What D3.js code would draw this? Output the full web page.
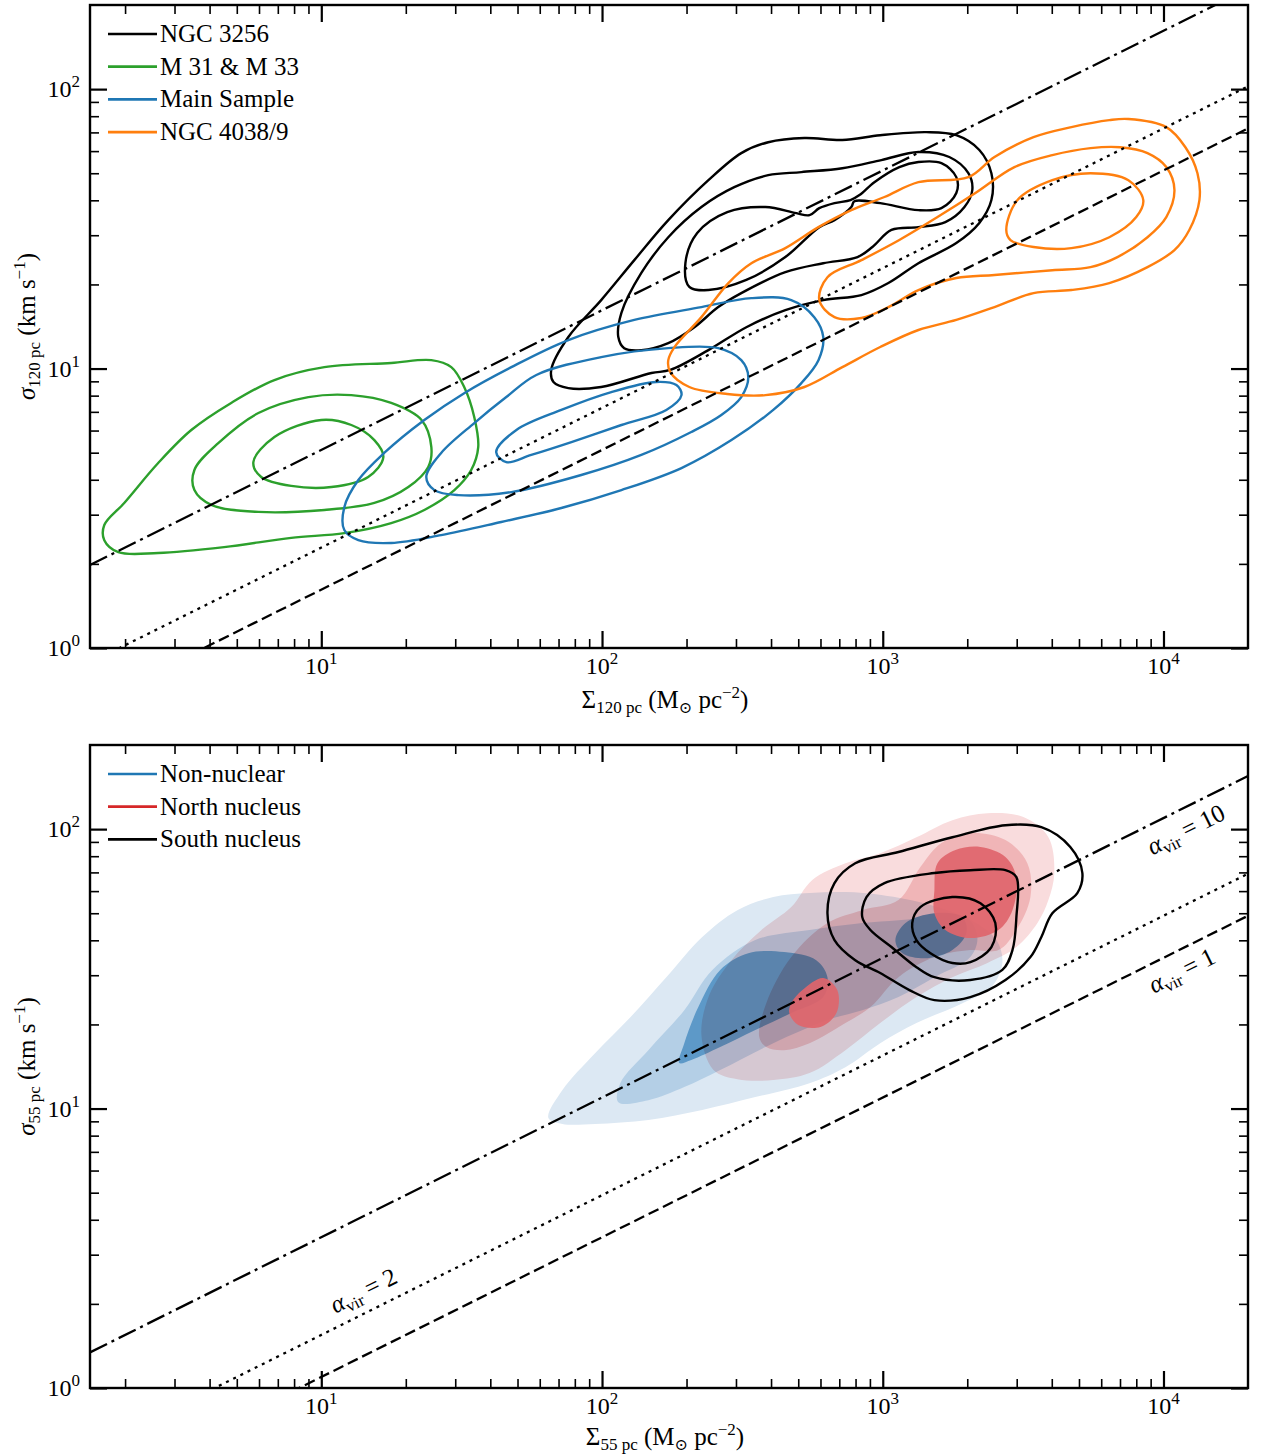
<!DOCTYPE html>
<meta charset="utf-8">
<style>
body { margin: 0; background: #fff; }
svg { font-family: "Liberation Serif", "DejaVu Serif", serif; }
.frame { fill: none; stroke: #000; stroke-width: 2.4; }
.contour { fill: none; stroke-width: 2.4; stroke-linejoin: round; }
.vir { fill: none; stroke: #000; stroke-width: 2.3; }
</style>
<svg width="1263" height="1455"></svg>
<script src="https://d3js.org/d3.v7.min.js"></script>
<script>

// axes
var xDomain = [1.5, 2e4],
    yDomain = [1, 200];
var xMajor = [10, 100, 1000, 10000],
    yMajor = [1, 10, 100];

// virial parameter lines: sigma^2 = coef * alpha * Sigma * R
var alphaVir = [10, 2, 1];
var coef = 0.00218;
var resolution = [120, 55];

// contour levels, [log10 Sigma, log10 sigma], outer -> inner
var ngc3256 = [
  [[1.819,0.995],[1.880,1.113],[1.997,1.245],[2.115,1.388],[2.236,1.531],[2.379,1.674],[2.496,1.771],[2.592,1.810],[2.721,1.825],[2.856,1.818],[2.991,1.835],[3.155,1.846],[3.262,1.835],[3.344,1.782],[3.387,1.699],[3.387,1.603],[3.344,1.521],[3.262,1.449],[3.127,1.377],[3.020,1.306],[2.924,1.263],[2.788,1.245],[2.653,1.209],[2.514,1.148],[2.379,1.066],[2.243,0.995],[2.176,0.984],[1.997,0.934],[1.880,0.930],[1.827,0.952]],
  [[2.069,1.199],[2.140,1.342],[2.236,1.470],[2.354,1.578],[2.471,1.649],[2.592,1.692],[2.710,1.703],[2.856,1.717],[2.995,1.746],[3.127,1.775],[3.237,1.757],[3.305,1.699],[3.319,1.639],[3.291,1.578],[3.223,1.524],[3.127,1.506],[3.031,1.496],[2.963,1.435],[2.910,1.399],[2.788,1.377],[2.653,1.345],[2.496,1.270],[2.414,1.220],[2.329,1.148],[2.236,1.091],[2.140,1.066],[2.079,1.073],[2.058,1.113]],
  [[2.446,1.560],[2.582,1.578],[2.692,1.556],[2.739,1.549],[2.774,1.574],[2.828,1.592],[2.885,1.603],[2.917,1.621],[2.970,1.667],[3.059,1.721],[3.127,1.739],[3.209,1.735],[3.262,1.685],[3.262,1.628],[3.209,1.574],[3.127,1.567],[2.991,1.592],[2.899,1.599],[2.888,1.578],[2.828,1.531],[2.774,1.506],[2.653,1.399],[2.514,1.317],[2.379,1.281],[2.311,1.292],[2.297,1.377],[2.339,1.485]]
];

var m31m33 = [
  [[0.227,0.440],[0.298,0.519],[0.419,0.662],[0.537,0.780],[0.679,0.877],[0.833,0.959],[1.011,1.005],[1.249,1.020],[1.392,1.030],[1.463,1.005],[1.509,0.934],[1.545,0.826],[1.559,0.719],[1.534,0.637],[1.474,0.565],[1.367,0.494],[1.249,0.447],[1.082,0.411],[0.893,0.394],[0.654,0.361],[0.419,0.340],[0.277,0.343],[0.227,0.386]],
  [[1.392,0.719],[1.357,0.816],[1.249,0.877],[1.107,0.905],[0.954,0.898],[0.776,0.841],[0.633,0.733],[0.548,0.637],[0.548,0.565],[0.608,0.512],[0.776,0.487],[1.011,0.494],[1.189,0.519],[1.310,0.576],[1.381,0.648]],
  [[1.000,0.816],[0.833,0.755],[0.758,0.665],[0.786,0.612],[0.893,0.580],[1.036,0.576],[1.167,0.612],[1.221,0.683],[1.189,0.744],[1.107,0.798]]
];

var mainSample = [
  [[1.082,0.504],[1.132,0.601],[1.224,0.698],[1.367,0.816],[1.509,0.912],[1.677,1.005],[1.880,1.102],[2.115,1.174],[2.354,1.220],[2.532,1.252],[2.674,1.245],[2.756,1.184],[2.788,1.113],[2.771,1.030],[2.710,0.948],[2.610,0.852],[2.461,0.744],[2.283,0.644],[2.069,0.565],[1.855,0.501],[1.641,0.451],[1.427,0.404],[1.249,0.376],[1.132,0.386],[1.082,0.422]],
  [[1.374,0.612],[1.427,0.698],[1.545,0.805],[1.659,0.898],[1.766,0.977],[1.997,1.041],[2.236,1.073],[2.414,1.073],[2.496,1.030],[2.521,0.970],[2.496,0.898],[2.425,0.834],[2.318,0.773],[2.140,0.691],[1.926,0.619],[1.677,0.558],[1.488,0.547],[1.403,0.565]],
  [[1.623,0.701],[1.695,0.780],[1.855,0.852],[2.033,0.916],[2.193,0.952],[2.265,0.941],[2.283,0.905],[2.229,0.852],[2.069,0.798],[1.891,0.737],[1.748,0.691],[1.659,0.665]]
];

var ngc4038 = [
  [[2.236,1.030],[2.258,1.077],[2.354,1.184],[2.450,1.306],[2.532,1.377],[2.653,1.431],[2.771,1.506],[2.888,1.567],[3.006,1.614],[3.127,1.667],[3.305,1.685],[3.398,1.757],[3.537,1.828],[3.672,1.864],[3.807,1.889],[3.875,1.893],[4.010,1.864],[4.078,1.792],[4.121,1.699],[4.128,1.603],[4.092,1.496],[4.039,1.424],[3.943,1.363],[3.807,1.306],[3.672,1.281],[3.537,1.270],[3.398,1.220],[3.262,1.174],[3.127,1.138],[2.991,1.077],[2.856,1.005],[2.721,0.934],[2.582,0.905],[2.446,0.909],[2.311,0.934],[2.243,0.987]],
  [[2.774,1.245],[2.803,1.327],[2.924,1.388],[3.059,1.460],[3.195,1.542],[3.330,1.628],[3.469,1.721],[3.604,1.764],[3.740,1.789],[3.846,1.792],[3.943,1.771],[4.010,1.721],[4.039,1.639],[4.010,1.542],[3.943,1.470],[3.836,1.399],[3.740,1.363],[3.604,1.352],[3.398,1.335],[3.262,1.324],[3.127,1.281],[3.020,1.220],[2.924,1.181],[2.828,1.184]],
  [[3.440,1.496],[3.480,1.603],[3.604,1.674],[3.740,1.699],[3.875,1.674],[3.928,1.603],[3.903,1.542],[3.807,1.470],[3.672,1.431],[3.537,1.435],[3.455,1.460]]
];

// lower panel: filled density levels (light -> dark) and south nucleus lines
var nonNuclear = [
  [[1.809,0.966],[1.859,1.066],[1.976,1.199],[2.101,1.327],[2.229,1.470],[2.357,1.614],[2.482,1.710],[2.610,1.757],[2.739,1.771],[2.867,1.775],[2.995,1.764],[3.173,1.728],[3.316,1.674],[3.405,1.603],[3.426,1.521],[3.387,1.435],[3.284,1.377],[3.120,1.306],[2.991,1.234],[2.867,1.148],[2.739,1.091],[2.546,1.041],[2.357,0.995],[2.165,0.959],[1.976,0.945],[1.859,0.945]],
  [[2.058,1.023],[2.065,1.091],[2.165,1.209],[2.293,1.352],[2.393,1.496],[2.546,1.603],[2.739,1.639],[2.927,1.664],[3.056,1.674],[3.184,1.685],[3.298,1.685],[3.337,1.614],[3.312,1.542],[3.184,1.470],[3.056,1.399],[2.927,1.352],[2.803,1.317],[2.610,1.234],[2.421,1.138],[2.293,1.077],[2.165,1.030]],
  [[2.275,1.163],[2.293,1.234],[2.343,1.363],[2.421,1.496],[2.521,1.556],[2.649,1.560],[2.763,1.531],[2.803,1.470],[2.788,1.399],[2.674,1.342],[2.546,1.281],[2.421,1.220],[2.318,1.174]],
  [[3.045,1.603],[3.081,1.664],[3.184,1.699],[3.284,1.685],[3.298,1.628],[3.248,1.567],[3.159,1.538],[3.070,1.556]]
];
var nonNuclearLevel = [0, 1, 2, 2];

var northNucleus = [
  [[2.397,1.138],[2.354,1.263],[2.382,1.406],[2.461,1.531],[2.568,1.639],[2.674,1.721],[2.749,1.818],[2.867,1.878],[2.991,1.914],[3.120,1.971],[3.248,2.032],[3.373,2.057],[3.501,2.043],[3.590,1.971],[3.611,1.843],[3.590,1.746],[3.551,1.664],[3.476,1.578],[3.373,1.521],[3.248,1.470],[3.120,1.399],[2.991,1.306],[2.867,1.209],[2.739,1.127],[2.610,1.102],[2.482,1.105]],
  [[2.560,1.256],[2.585,1.377],[2.674,1.542],[2.803,1.664],[2.927,1.710],[3.056,1.746],[3.134,1.864],[3.209,1.950],[3.312,1.986],[3.437,1.961],[3.515,1.878],[3.526,1.757],[3.476,1.639],[3.412,1.567],[3.312,1.567],[3.184,1.542],[3.056,1.470],[2.956,1.363],[2.867,1.306],[2.739,1.234],[2.649,1.209],[2.585,1.220]],
  [[3.184,1.782],[3.195,1.878],[3.259,1.925],[3.348,1.936],[3.437,1.900],[3.476,1.828],[3.462,1.710],[3.412,1.639],[3.312,1.610],[3.223,1.639],[3.184,1.699]],
  [[2.674,1.377],[2.714,1.424],[2.788,1.467],[2.838,1.424],[2.835,1.342],[2.778,1.292],[2.699,1.299],[2.667,1.342]]
];
var northLevel = [0, 1, 2, 2];

var southNucleus = [
  [[2.803,1.699],[2.828,1.807],[2.902,1.878],[3.056,1.918],[3.248,1.971],[3.437,2.014],[3.565,2.007],[3.668,1.936],[3.711,1.843],[3.693,1.771],[3.604,1.699],[3.565,1.614],[3.526,1.542],[3.437,1.460],[3.312,1.399],[3.184,1.388],[3.095,1.424],[2.991,1.485],[2.902,1.531],[2.828,1.603]],
  [[2.927,1.685],[2.942,1.757],[3.006,1.807],[3.184,1.843],[3.312,1.853],[3.437,1.853],[3.476,1.828],[3.476,1.685],[3.462,1.567],[3.426,1.496],[3.312,1.460],[3.184,1.470],[3.120,1.506],[3.031,1.578],[2.956,1.639]],
  [[3.105,1.664],[3.134,1.721],[3.248,1.757],[3.348,1.735],[3.401,1.664],[3.387,1.578],[3.312,1.524],[3.248,1.521],[3.170,1.556],[3.120,1.603]]
];

// where the alpha_vir labels sit, [Sigma, sigma]
var alphaLabelText = ["10", "2", "1"];
var alphaLabelAt = [[1.2e4, 100], [14.1, 2.24], [1.16e4, 31.3]];

var topLegend = ["NGC 3256", "M 31 & M 33", "Main Sample", "NGC 4038/9"];
var bottomLegend = ["Non-nuclear", "North nucleus", "South nucleus"];

var green = "#2ca02c", blue = "#1f77b4", orange = "#ff7f0e", red = "#d62728";
var blueFill = ["#dce8f3", "#b4cfe6", "#5d99c8"],
    redFill = ["#f9dcdd", "#f0b5b7", "#e0656b"];
var dashes = ["19,5,3,5", "3,5", "11,5"];

var svg = d3.select("svg"),
    left = 90, right = 1248;

var panels = [
  {top: 5, bottom: 648, res: resolution[0], sub: "120 pc", labelY: 708},
  {top: 745, bottom: 1388, res: resolution[1], sub: "55 pc", labelY: 1445}
];

panels.forEach(function(p, pi) {
  var x = d3.scaleLog().domain(xDomain).range([left, right]),
      y = d3.scaleLog().domain(yDomain).range([p.bottom, p.top]);

  svg.append("clipPath").attr("id", "clip" + pi)
    .append("rect")
      .attr("x", left).attr("y", p.top)
      .attr("width", right - left).attr("height", p.bottom - p.top);

  var body = svg.append("g").attr("clip-path", "url(#clip" + pi + ")");

  var contour = d3.line()
      .x(function(d) { return x(Math.pow(10, d[0])); })
      .y(function(d) { return y(Math.pow(10, d[1])); })
      .curve(d3.curveCatmullRomClosed.alpha(0.5));

  if (pi === 0) {
    [[ngc3256, "#000"], [m31m33, green], [mainSample, blue], [ngc4038, orange]].forEach(function(s) {
      body.append("g").selectAll("path")
        .data(s[0])
        .enter().append("path")
          .attr("class", "contour")
          .attr("stroke", s[1])
          .attr("d", contour);
    });
  } else {
    body.append("g").selectAll("path")
      .data(nonNuclear)
      .enter().append("path")
        .attr("fill", function(d, i) { return blueFill[nonNuclearLevel[i]]; })
        .attr("d", contour);

    var redSoft = body.append("g").style("mix-blend-mode", "multiply");
    redSoft.selectAll("path")
      .data(northNucleus.filter(function(d, i) { return northLevel[i] < 2; }))
      .enter().append("path")
        .attr("fill", function(d, i) { return redFill[i]; })
        .attr("d", contour);

    body.append("g").selectAll("path")
      .data(northNucleus.filter(function(d, i) { return northLevel[i] === 2; }))
      .enter().append("path")
        .attr("fill", redFill[2])
        .attr("fill-opacity", 0.92)
        .attr("d", contour);
  }

  // virial lines
  var vline = d3.line()
      .x(function(d) { return x(d[0]); })
      .y(function(d) { return y(d[1]); });
  alphaVir.forEach(function(a, i) {
    var pts = xDomain.map(function(s) { return [s, Math.sqrt(coef * a * s * p.res)]; });
    body.append("path")
        .attr("class", "vir")
        .attr("stroke-dasharray", dashes[i])
        .attr("d", vline(pts));
  });

  if (pi === 1) {
    body.append("g").selectAll("path")
      .data(southNucleus)
      .enter().append("path")
        .attr("class", "contour")
        .attr("stroke", "#000")
        .attr("d", contour);

    // alpha_vir labels, rotated along the lines
    var angle = Math.atan2(y(Math.sqrt(coef * 1e4)) - y(Math.sqrt(coef)), x(1e4) - x(1)) * 180 / Math.PI;
    alphaLabelAt.forEach(function(at, i) {
      var t = svg.append("text")
          .attr("transform", "translate(" + x(at[0]) + "," + y(at[1]) + ") rotate(" + angle + ")")
          .attr("text-anchor", "middle")
          .attr("dy", "0.35em")
          .style("font-size", "25px");
      t.append("tspan").style("font-style", "italic").text("α");
      t.append("tspan").attr("dy", 5).style("font-size", "17px").text("vir");
      t.append("tspan").attr("dy", -5).text(" = " + alphaLabelText[i]);
    });
  }

  // ticks, inward on all four sides
  var minorX = [], minorY = [];
  [1, 10, 100, 1000, 10000].forEach(function(dec) {
    for (var k = 2; k < 10; k++) {
      var v = k * dec;
      if (v > xDomain[0] && v < xDomain[1]) minorX.push(v);
      if (v > yDomain[0] && v < yDomain[1]) minorY.push(v);
    }
  });

  function tickSet(axis, values, size, width, transform) {
    var a = svg.append("g")
        .attr("transform", transform)
        .call(axis.tickValues(values).tickSize(-size).tickFormat(""));
    a.select(".domain").remove();
    a.selectAll(".tick line").attr("stroke-width", width);
  }
  [[xMajor, 17, 2.2], [minorX, 9, 1.6]].forEach(function(t) {
    tickSet(d3.axisBottom(x), t[0], t[1], t[2], "translate(0," + p.bottom + ")");
    tickSet(d3.axisTop(x), t[0], t[1], t[2], "translate(0," + p.top + ")");
  });
  [[yMajor, 17, 2.2], [minorY, 9, 1.6]].forEach(function(t) {
    tickSet(d3.axisLeft(y), t[0], t[1], t[2], "translate(" + left + ",0)");
    tickSet(d3.axisRight(y), t[0], t[1], t[2], "translate(" + right + ",0)");
  });

  svg.append("rect")
      .attr("class", "frame")
      .attr("x", left).attr("y", p.top)
      .attr("width", right - left).attr("height", p.bottom - p.top);

  // tick labels
  xMajor.forEach(function(v) {
    var t = svg.append("text")
        .attr("x", x(v)).attr("y", p.bottom + 26)
        .attr("text-anchor", "middle")
        .style("font-size", "24px");
    t.append("tspan").text("10");
    t.append("tspan").attr("dy", -10).style("font-size", "17px").text(Math.round(Math.log10(v)));
  });
  yMajor.forEach(function(v) {
    var t = svg.append("text")
        .attr("x", 80).attr("y", y(v) + 8)
        .attr("text-anchor", "end")
        .style("font-size", "24px");
    t.append("tspan").text("10");
    t.append("tspan").attr("dy", -10).style("font-size", "17px").text(Math.round(Math.log10(v)));
  });

  // axis titles
  var xt = svg.append("text")
      .attr("x", (left + right) / 2 - 4).attr("y", p.labelY)
      .attr("text-anchor", "middle")
      .style("font-size", "25px");
  xt.append("tspan").text("Σ");
  xt.append("tspan").attr("dy", 5).style("font-size", "17px").text(p.sub);
  xt.append("tspan").attr("dy", -5).text(" (M");
  xt.append("tspan").attr("dy", 5).style("font-size", "16px").text("⊙");
  xt.append("tspan").attr("dy", -5).text(" pc");
  xt.append("tspan").attr("dy", -10).style("font-size", "17px").text("−2");
  xt.append("tspan").attr("dy", 10).text(")");

  var yt = svg.append("text")
      .attr("transform", "translate(35," + (p.top + p.bottom) / 2 + ") rotate(-90)")
      .attr("text-anchor", "middle")
      .style("font-size", "25px");
  yt.append("tspan").style("font-style", "italic").text("σ");
  yt.append("tspan").attr("dy", 5).style("font-size", "17px").text(p.sub);
  yt.append("tspan").attr("dy", -5).text(" (km s");
  yt.append("tspan").attr("dy", -10).style("font-size", "17px").text("−1");
  yt.append("tspan").attr("dy", 10).text(")");

  // legend
  var names = pi === 0 ? topLegend : bottomLegend,
      colors = pi === 0 ? ["#000", green, blue, orange] : [blue, red, "#000"];
  var leg = svg.append("g").selectAll("g")
    .data(names)
    .enter().append("g")
      .attr("transform", function(d, i) { return "translate(0," + (p.top + 29 + i * 32.7) + ")"; });
  leg.append("line")
      .attr("x1", 108).attr("x2", 157)
      .attr("stroke", function(d, i) { return colors[i]; })
      .attr("stroke-width", 2.7);
  leg.append("text")
      .attr("x", 160).attr("y", 8)
      .style("font-size", "25px")
      .text(function(d) { return d; });
});

</script>
